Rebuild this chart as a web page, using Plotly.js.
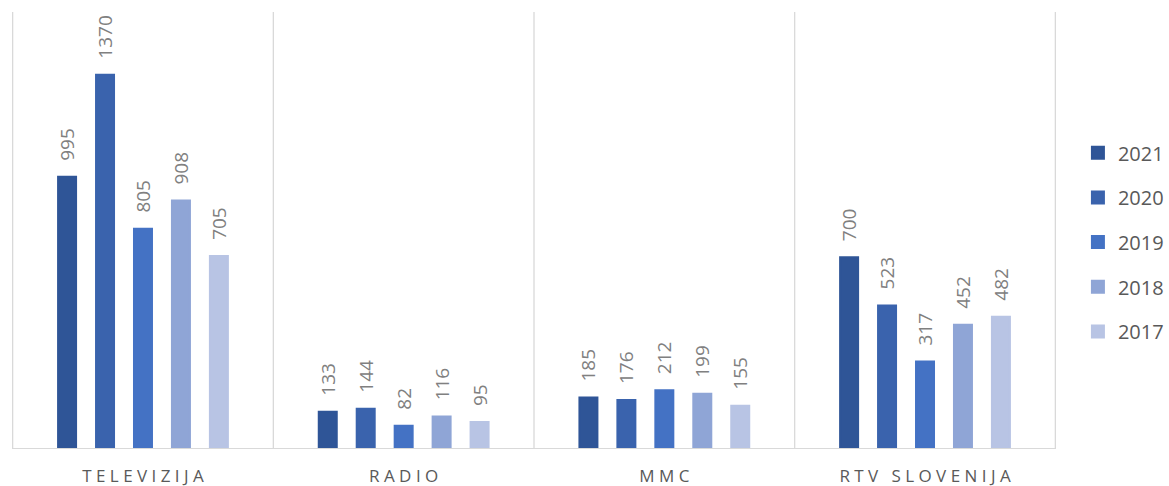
<!DOCTYPE html>
<html>
<head>
<meta charset="utf-8">
<script src="https://cdn.plot.ly/plotly-3.0.1.min.js"></script>
<style>html,body{margin:0;padding:0;background:#fff}</style>
</head>
<body>
<div id="chart" style="width:1169px;height:486px"></div>
<script>
const categories = ["TELEVIZIJA", "RADIO", "MMC", "RTV SLOVENIJA"];
const years = ["2021", "2020", "2019", "2018", "2017"];
const v2021 = [995, 133, 185, 700];
const v2020 = [1370, 144, 176, 523];
const v2019 = [805, 82, 212, 317];
const v2018 = [908, 116, 199, 452];
const v2017 = [705, 95, 155, 482];
const seriesValues = [v2021, v2020, v2019, v2018, v2017];
const colors = ["#2F5597", "#3A63AD", "#4472C4", "#8FA5D6", "#B8C4E4"];

function spaced(s) { return s.split("").map(c => c === " " ? "\u00A0" : c).join("\u00A0"); }
const tickText = categories.map(spaced);

const traces = seriesValues.map((vals, i) => ({
  type: "bar",
  name: years[i],
  legendgroup: years[i],
  x: categories,
  y: vals,
  marker: {color: colors[i], line: {color: colors[i], width: 2}},
  text: vals.map(v => "\u00A0\u00A0\u2009" + v),
  textposition: "outside",
  textangle: -90,
  constraintext: "none",
  textfont: {family: "Open Sans, sans-serif", size: 19, color: "#808080"},
  cliponaxis: false,
  hoverinfo: "none"
}));

const shapes = [-0.5, 0.5, 1.5, 2.5, 3.5].map(p => ({
  type: "line", xref: "x", yref: "paper", x0: p, x1: p, y0: 0, y1: 1,
  line: {color: "#D9D9D9", width: 1.3}, layer: "below"
}));

const layout = {
  width: 1169, height: 486,
  margin: {l: 12, r: 113, t: 12, b: 38, autoexpand: false},
  paper_bgcolor: "#fff", plot_bgcolor: "#fff",
  barmode: "group",
  bargap: 0.272,
  bargroupgap: 0.526,
  showlegend: true,
  legend: {
    x: 1.021, xanchor: "left", y: 0.472, yanchor: "middle",
    font: {family: "Open Sans, sans-serif", size: 20, color: "#595959"},
    tracegroupgap: 15.7, itemwidth: 30
  },
  xaxis: {
    type: "category",
    tickmode: "array", tickvals: categories, ticktext: tickText,
    tickfont: {family: "Open Sans, sans-serif", size: 17, color: "#595959"},
    ticks: "outside", ticklen: 12, tickcolor: "rgba(0,0,0,0)",
    showline: true, linecolor: "#D9D9D9", linewidth: 1.3,
    showgrid: false, zeroline: false, fixedrange: true
  },
  yaxis: {
    range: [0, 1600], visible: false, showgrid: false, zeroline: false, fixedrange: true
  },
  shapes: shapes
};

Plotly.newPlot("chart", traces, layout, {displayModeBar: false, staticPlot: true});
</script>
</body>
</html>
